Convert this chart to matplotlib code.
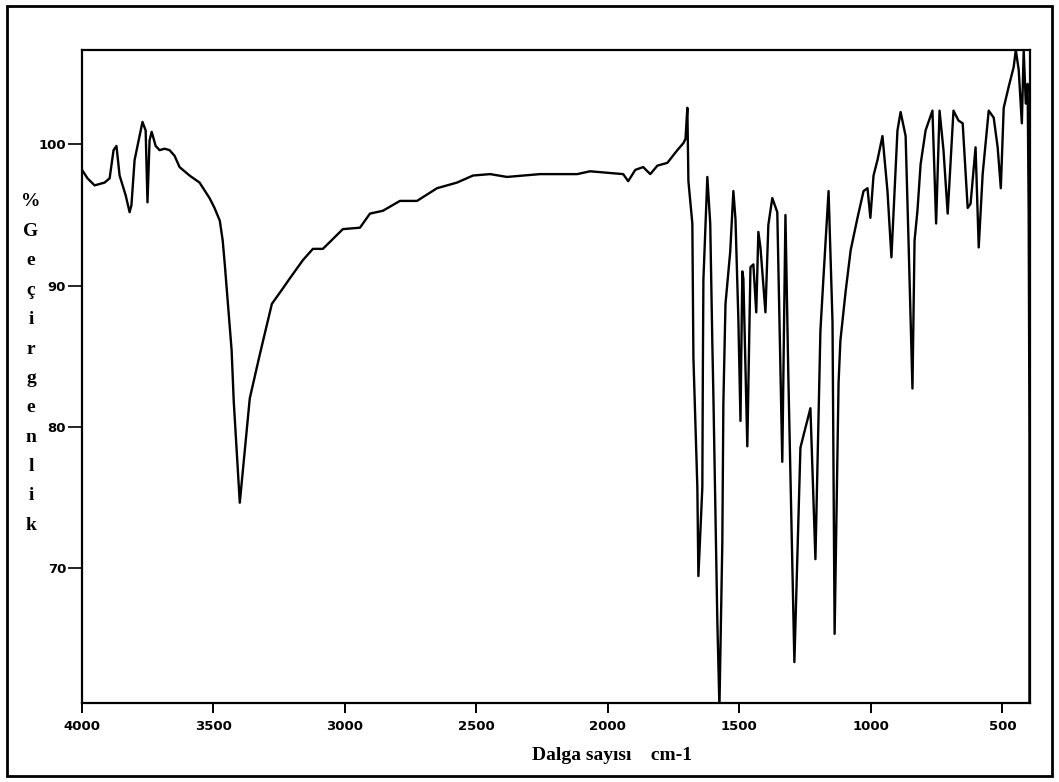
import matplotlib
matplotlib.use("Agg")
import matplotlib.pyplot as plt
from matplotlib.patches import Rectangle

#IR spectrum (wavenumber cm-1, % transmittance)
wavenumber = [4000, 3979, 3952, 3914, 3895, 3880, 3869, 3857, 3834, 3819,
              3812, 3800, 3781, 3770, 3758, 3751, 3743, 3735, 3720, 3705,
              3686, 3667, 3648, 3629, 3591, 3553, 3515, 3496, 3476, 3465,
              3457, 3446, 3431, 3423, 3412, 3400, 3381, 3362, 3324, 3278,
              3236, 3210, 3179, 3160, 3122, 3084, 3046, 3008, 2943, 2905,
              2856, 2791, 2726, 2650, 2574, 2513, 2448, 2384, 2258, 2117,
              2068, 1942, 1923, 1896, 1866, 1839, 1812, 1774, 1736, 1713,
              1705, 1698, 1694, 1679, 1675, 1660, 1656, 1641, 1639, 1637,
              1622, 1611, 1603, 1599, 1584, 1576, 1565, 1561, 1553, 1535,
              1523, 1515, 1504, 1496, 1489, 1485, 1470, 1458, 1447, 1436,
              1428, 1420, 1401, 1390, 1375, 1356, 1337, 1325, 1314, 1291,
              1268, 1256, 1230, 1211, 1192, 1180, 1161, 1146, 1138, 1123,
              1116, 1096, 1077, 1051, 1028, 1013, 1002, 990, 975, 956,
              937, 922, 910, 899, 887, 868, 857, 842, 834, 823,
              811, 792, 766, 752, 739, 724, 708, 686, 667, 651,
              632, 621, 602, 590, 575, 552, 533, 518, 506, 495,
              476, 457, 449, 438, 426, 419, 411, 404, 400, 397,
              397]
transmittance = [98.2, 97.6, 97.1, 97.3, 97.6, 99.6, 99.9, 97.8, 96.4, 95.2,
                 95.7, 98.9, 100.6, 101.6, 101.0, 95.9, 100.3, 100.9, 99.9, 99.6,
                 99.7, 99.6, 99.2, 98.4, 97.8, 97.3, 96.2, 95.5, 94.6, 93.2,
                 91.5, 88.9, 85.4, 81.8, 78.3, 74.6, 78.3, 82.0, 85.1, 88.7,
                 89.8, 90.5, 91.3, 91.8, 92.6, 92.6, 93.3, 94.0, 94.1, 95.1,
                 95.3, 96.0, 96.0, 96.9, 97.3, 97.8, 97.9, 97.7, 97.9, 97.9,
                 98.1, 97.9, 97.4, 98.2, 98.4, 97.9, 98.5, 98.7, 99.6, 100.1,
                 100.4, 102.6, 97.4, 94.4, 84.9, 75.7, 69.4, 75.7, 84.2, 90.4,
                 97.7, 94.4, 85.9, 82.2, 66.2, 60.1, 71.8, 81.7, 88.7, 92.4,
                 96.7, 94.7, 87.6, 80.4, 91.0, 90.5, 78.6, 91.3, 91.5, 88.1,
                 93.8, 92.7, 88.1, 94.3, 96.2, 95.2, 77.5, 95.0, 83.6, 63.3,
                 78.5, 79.4, 81.3, 70.6, 86.8, 90.7, 96.7, 87.4, 65.3, 83.1,
                 86.1, 89.6, 92.5, 94.8, 96.7, 96.9, 94.8, 97.8, 98.9, 100.6,
                 96.7, 92.0, 96.7, 101.0, 102.3, 100.6, 93.2, 82.7, 93.2, 95.3,
                 98.6, 101.0, 102.4, 94.4, 102.4, 99.6, 95.1, 102.4, 101.7, 101.5,
                 95.5, 95.8, 99.8, 92.7, 97.9, 102.4, 101.9, 99.8, 96.9, 102.6,
                 104.1, 105.5, 106.7, 105.3, 101.5, 106.7, 102.9, 104.3, 95.1, 79.0,
                 60.4]

xticks = [4000, 3500, 3000, 2500, 2000, 1500, 1000, 500]
yticks = [100, 90, 80, 70]
ylabel = "%Geçirgenlik"
xlabel = "Dalga sayısı    cm-1"

fig = plt.figure(figsize=(10.59, 7.82), dpi=100)
ax = fig.add_axes([82/1059, 1 - 703/782, 948/1059, 653/782])

ax.plot(wavenumber, transmittance, color="black", linewidth=1.7)
ax.set_xlim(4000, 395)
ax.set_ylim(60.4, 106.7)

for side in ax.spines.values():
    side.set_linewidth(1.6)

ax.set_xticks(xticks)
ax.set_yticks(yticks)
ax.set_xticklabels([str(v) for v in xticks], fontsize=9.5, fontweight="bold")
ax.set_yticklabels([str(v) for v in yticks], fontsize=9.5, fontweight="bold")
ax.tick_params(axis="x", direction="out", length=7.5, width=1.4, pad=5)
ax.tick_params(axis="y", direction="out", length=10, width=1.2, pad=1.5)

#axis titles in bold serif, the y one stacked letter by letter
for i, ch in enumerate(ylabel):
    fig.text(31/1059, 1 - (202 + i*29.4)/782, ch, fontsize=14, fontweight="bold",
             family="Liberation Serif", ha="center", va="center")
fig.text(612/1059, 1 - 755/782, xlabel, fontsize=14, fontweight="bold",
         family="Liberation Serif", ha="center", va="center")

#frame round the whole picture
fig.patches.append(Rectangle((7/1059, 1 - 776/782), 1045/1059, 770/782,
                             transform=fig.transFigure, fill=False,
                             edgecolor="black", linewidth=2))

fig.savefig("out.png", dpi=100)
